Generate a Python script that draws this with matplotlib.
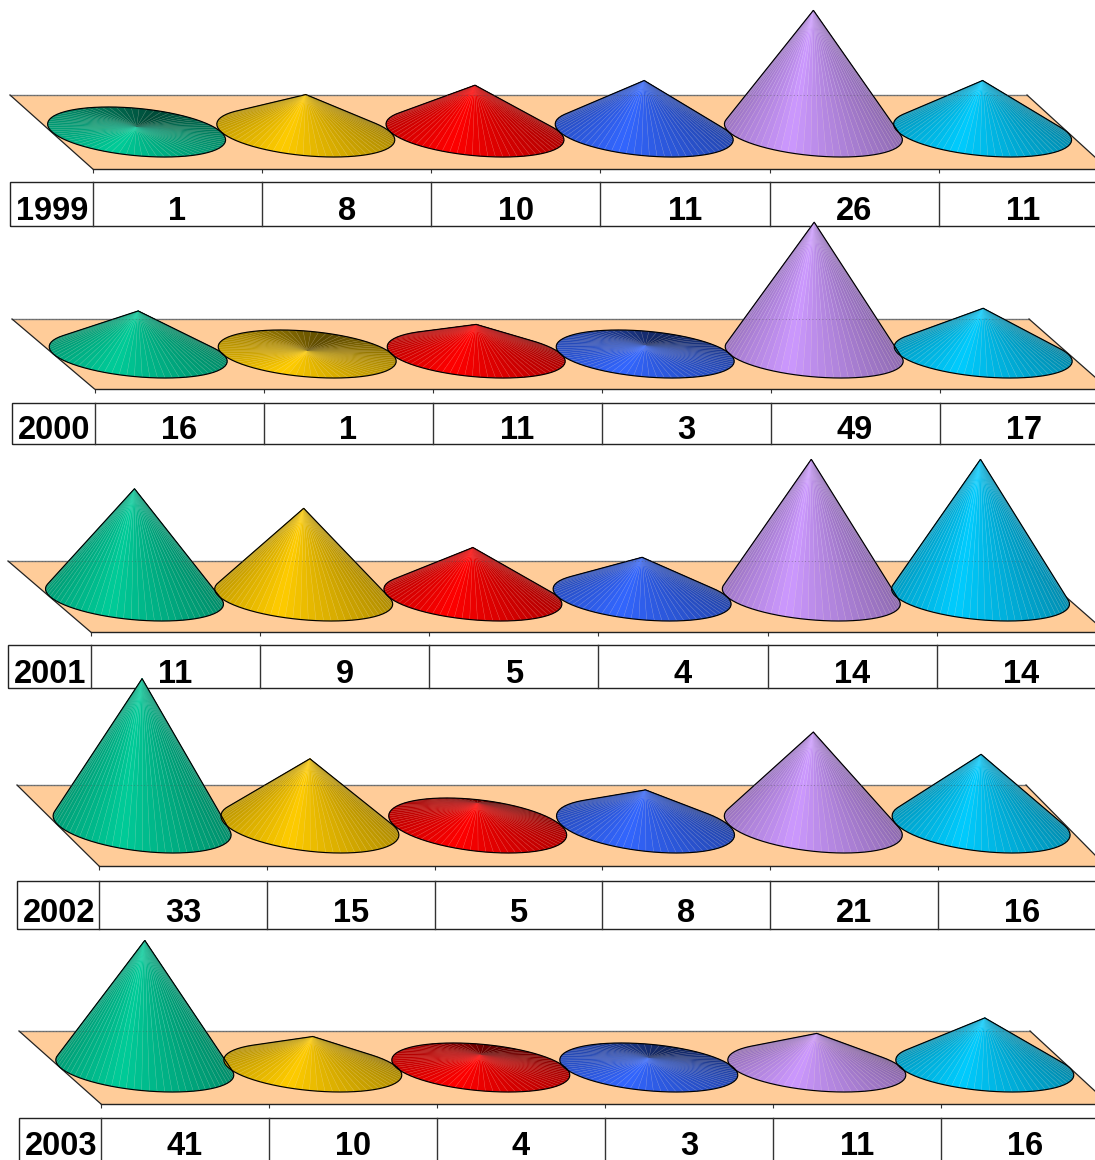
import numpy as np
import matplotlib
matplotlib.use("Agg")
import matplotlib.pyplot as plt
from matplotlib.collections import PolyCollection
from matplotlib.colors import to_rgb
from matplotlib.patches import Polygon, Rectangle

years = ["1999", "2000", "2001", "2002", "2003"]
values_1999 = [1, 8, 10, 11, 26, 11]
values_2000 = [16, 1, 11, 3, 49, 17]
values_2001 = [11, 9, 5, 4, 14, 14]
values_2002 = [33, 15, 5, 8, 21, 16]
values_2003 = [41, 10, 4, 3, 11, 16]
all_values = [values_1999, values_2000, values_2001, values_2002, values_2003]

colors = ["#00CC99", "#FFCC00", "#FF0000", "#3366FF", "#CC99FF", "#00CCFF"]

W, H = 1095, 1160

# pixel layout of each panel
# floor left top, floor left bottom, cat width, floor top, floor bottom, floor right top,
# table top, table bottom, text baseline, base centre y, px per unit, ellipse half height, cone shift
layout = [
    (10, 92.8, 169.2, 95, 169, 1027, 182, 226, 220, 132, 4.68, 25, 40.8),
    (12, 94.5, 169.0, 319, 389, 1029, 403, 444, 439, 354, 2.69, 24, 40.8),
    (8, 90.7, 169.2, 561, 632, 1025, 645, 688, 683, 596.5, 9.8, 24.5, 40.8),
    (17, 99, 167.8, 785, 866, 1026, 881, 929, 922, 825.5, 4.45, 27.5, 40.8),
    (19, 101, 168.0, 1031, 1104, 1030, 1118, 1163, 1155, 1067.5, 3.1, 24.5, 40.2),
]


def hull(pts):
    pts = sorted(map(tuple, pts))
    def half(points):
        out = []
        for p in points:
            while len(out) > 1:
                a, b = out[-2], out[-1]
                if (b[0]-a[0])*(p[1]-a[1]) - (b[1]-a[1])*(p[0]-a[0]) <= 0:
                    out.pop()
                else:
                    break
            out.append(p)
        return out[:-1]
    return half(pts) + half(pts[::-1])


def draw_cone(ax, cx, value, color, cw, unit, half_h):
    shear = half_h * 83 / 74
    a = np.sqrt(89.0**2 - shear**2)
    t = np.linspace(0, 2*np.pi, 73)
    ex = cx + (a*np.cos(t) - shear*np.sin(t)) / cw
    ey = half_h*np.sin(t) / unit

    mid = (t[:-1] + t[1:]) / 2
    # angle away from the lit side of the cone
    d = np.abs((np.degrees(mid) + 125 + 180) % 360 - 180)
    shade = np.interp(d, [0, 20, 55, 110, 180], [1.0, 0.91, 0.79, 0.66, 0.36])
    rgb = np.array(to_rgb(color))

    # keep the facets that face the viewer, back ones first
    area = (ex[:-1]-cx)*(ey[1:]-value) - (ex[1:]-cx)*(ey[:-1]-value)
    order = [i for i in np.argsort(-np.sin(mid)) if area[i] > 0]
    faces = [[(cx, value), (ex[i], ey[i]), (ex[i+1], ey[i+1])] for i in order]
    cols = [tuple(rgb*shade[i]) for i in order]
    seams = [tuple(rgb*shade[i]*0.8 + 0.2) for i in order]
    ax.add_collection(PolyCollection(faces, facecolors=cols, edgecolors=seams,
                                     linewidths=0.3, clip_on=False, zorder=3))
    outline = hull(list(zip(ex[:-1], ey[:-1])) + [(cx, value)])
    ax.add_patch(Polygon(outline, closed=True, fill=False, edgecolor="black",
                         lw=0.85, clip_on=False, zorder=4))


fig = plt.figure(figsize=(W/100, H/100), dpi=100)
plt.rcParams["font.family"] = ["Liberation Sans", "DejaVu Sans"]

for year, values, lay in zip(years, all_values, layout):
    tl, bl, cw, f_top, f_bot, tr, t_top, t_bot, text_px, base, unit, half_h, shift = lay
    top_px = base - max(values)*unit - 4
    ax = fig.add_axes([bl/W, 1 - f_bot/H, 6*cw/W, (f_bot - top_px)/H])
    ax.patch.set_visible(False)
    ax.set_xlim(0, 6)
    ax.set_ylim((base - f_bot)/unit, (base - top_px)/unit)
    for side in ["top", "left", "right"]:
        ax.spines[side].set_visible(False)
    ax.spines["bottom"].set_linewidth(1.0)
    ax.spines["bottom"].set_color("#222222")
    ax.set_yticks([])
    ax.set_xticks(range(7))
    ax.set_xticklabels([])
    ax.tick_params(axis="x", length=3, width=0.8, color="#333333")

    def xd(px):
        return (px - bl) / cw

    def yd(px):
        return (base - px) / unit

    ax.add_patch(Polygon([(xd(tl), yd(f_top)), (xd(tr), yd(f_top)), (6, yd(f_bot)), (0, yd(f_bot))],
                         closed=True, facecolor="#FFCC99", edgecolor="none", clip_on=False, zorder=1))
    ax.plot([xd(tl), xd(tr)], [yd(f_top)]*2, color="#777777", lw=1.0, clip_on=False, zorder=2)
    ax.plot([xd(tl), 0], [yd(f_top), yd(f_bot)], color="#222222", lw=0.9, clip_on=False, zorder=2)
    ax.plot([xd(tr), 6], [yd(f_top), yd(f_bot)], color="#222222", lw=0.9, clip_on=False, zorder=2)

    for i, (v, c) in enumerate(zip(values, colors)):
        cx = i + 0.5 - shift/cw
        draw_cone(ax, cx, v, c, cw, unit, half_h)

    # floor back edge shows faintly through the cones
    ax.plot([xd(tl), xd(tr)], [yd(f_top)]*2, color="#555555", lw=0.6, ls=(0, (1, 3)),
            alpha=0.6, clip_on=False, zorder=5)

    # data table under the floor
    ax.add_patch(Rectangle((xd(tl), yd(t_bot)), 6 - xd(tl), yd(t_top) - yd(t_bot), fill=False,
                           edgecolor="#222222", lw=1.0, clip_on=False, zorder=6))
    for k in range(7):
        ax.plot([k, k], [yd(t_top), yd(t_bot)], color="#333333", lw=1.0, clip_on=False, zorder=6)
    ax.text(xd((tl + bl)/2 + 1), yd(text_px), year, ha="center", va="baseline", fontsize=23.5,
            fontweight="bold", color="black", clip_on=False, zorder=7)
    for i, v in enumerate(values):
        ax.text(i + 0.5, yd(text_px), str(v), ha="center", va="baseline", fontsize=23.5,
                fontweight="bold", color="black", clip_on=False, zorder=7)

fig.savefig("out.png", dpi=100)
